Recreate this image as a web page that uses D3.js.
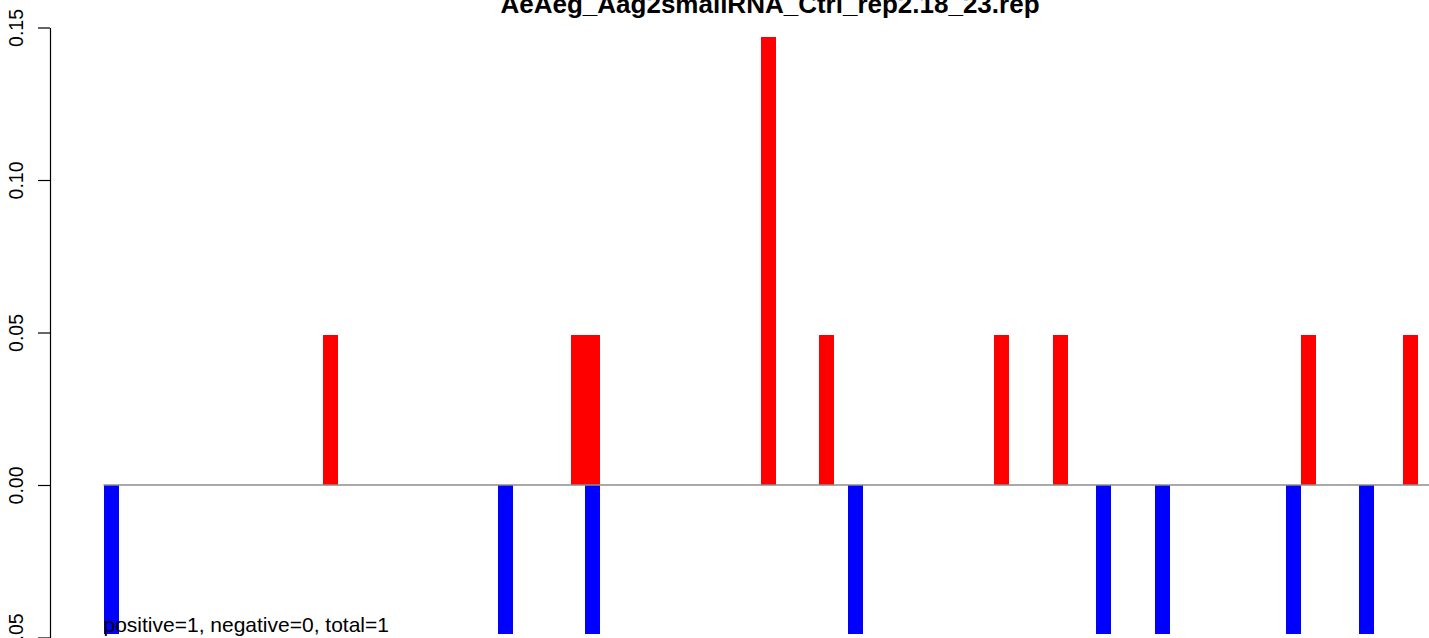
<!DOCTYPE html>
<html lang="en">
<head>
<meta charset="UTF-8">
<title>Phasing bars</title>
<script src="https://d3js.org/d3.v7.min.js"></script>
<style>
  body { margin: 0; background: #fff; }
  svg { display: block; font-family: "Liberation Sans", Arial, sans-serif; }
</style>
</head>
<body>
<svg></svg>
<script>
// chart data
const chartTitle = "AeAeg_Aag2smallRNA_Ctrl_rep2.18_23.rep";
const noteText = "positive=1, negative=0, total=1";
const positions = d3.range(1, 93);             // bar slots along the x axis
const positivePos = [16, 33, 34, 46, 50, 62, 66, 83, 90];
const positiveVal = [0.0492, 0.0492, 0.0492, 0.147, 0.0492, 0.0492, 0.0492, 0.0492, 0.0492];
const negativePos = [1, 28, 34, 52, 69, 73, 82, 87];
const negativeVal = [-0.0489, -0.0489, -0.0489, -0.0489, -0.0489, -0.0489, -0.0489, -0.0489];
const yTicks = [-0.05, 0, 0.05, 0.10, 0.15];

const W = 1429, H = 638;
const svg = d3.select("svg").attr("width", W).attr("height", H);

// scales
const x = d3.scaleBand()
    .domain(positions)
    .range([103.5, 103.5 + positions.length * 14.6])
    .padding(0);

const y = d3.scaleLinear()
    .domain([-0.05, 0.15])
    .range([637.5, 27.5]);

// bars
const pos = positivePos.map((p, i) => ({ p, v: positiveVal[i] }));
const neg = negativePos.map((p, i) => ({ p, v: negativeVal[i] }));

svg.append("g").attr("shape-rendering", "crispEdges").selectAll("rect")
    .data(pos)
    .join("rect")
    .attr("x", d => x(d.p))
    .attr("y", d => y(d.v))
    .attr("width", x.bandwidth() + 0.5)
    .attr("height", d => y(0) - y(d.v))
    .attr("fill", "#ff0000");

svg.append("g").attr("shape-rendering", "crispEdges").selectAll("rect")
    .data(neg)
    .join("rect")
    .attr("x", d => x(d.p))
    .attr("y", y(0))
    .attr("width", x.bandwidth() + 0.5)
    .attr("height", d => y(d.v) - y(0))
    .attr("fill", "#0000ff");

// zero line
svg.append("line")
    .attr("x1", x.range()[0])
    .attr("x2", x.range()[1])
    .attr("y1", y(0))
    .attr("y2", y(0))
    .attr("stroke", "#8c8c8c")
    .attr("stroke-width", 1.3);

// y axis
const yAxis = svg.append("g")
    .attr("transform", "translate(50,0)")
    .call(d3.axisLeft(y).tickValues(yTicks).tickFormat(d3.format(".2f")).tickSize(12).tickSizeOuter(0));

yAxis.select(".domain").attr("stroke", "#000").attr("stroke-width", 1.2);
yAxis.selectAll(".tick line").attr("stroke", "#000").attr("stroke-width", 1.2);
yAxis.selectAll(".tick text")
    .attr("font-family", "Liberation Sans, Arial, sans-serif")
    .attr("font-size", 19.5)
    .attr("fill", "#000")
    .attr("text-anchor", "middle")
    .attr("dy", null)
    .attr("x", null)
    .attr("transform", "translate(-27,0) rotate(-90)");

// title
svg.append("text")
    .attr("x", 770)
    .attr("y", 13)
    .attr("text-anchor", "middle")
    .attr("font-weight", "bold")
    .attr("font-size", 26)
    .text(chartTitle);

// summary note
svg.append("text")
    .attr("x", x(1))
    .attr("y", 632)
    .attr("font-size", 21)
    .text(noteText);
</script>
</body>
</html>
